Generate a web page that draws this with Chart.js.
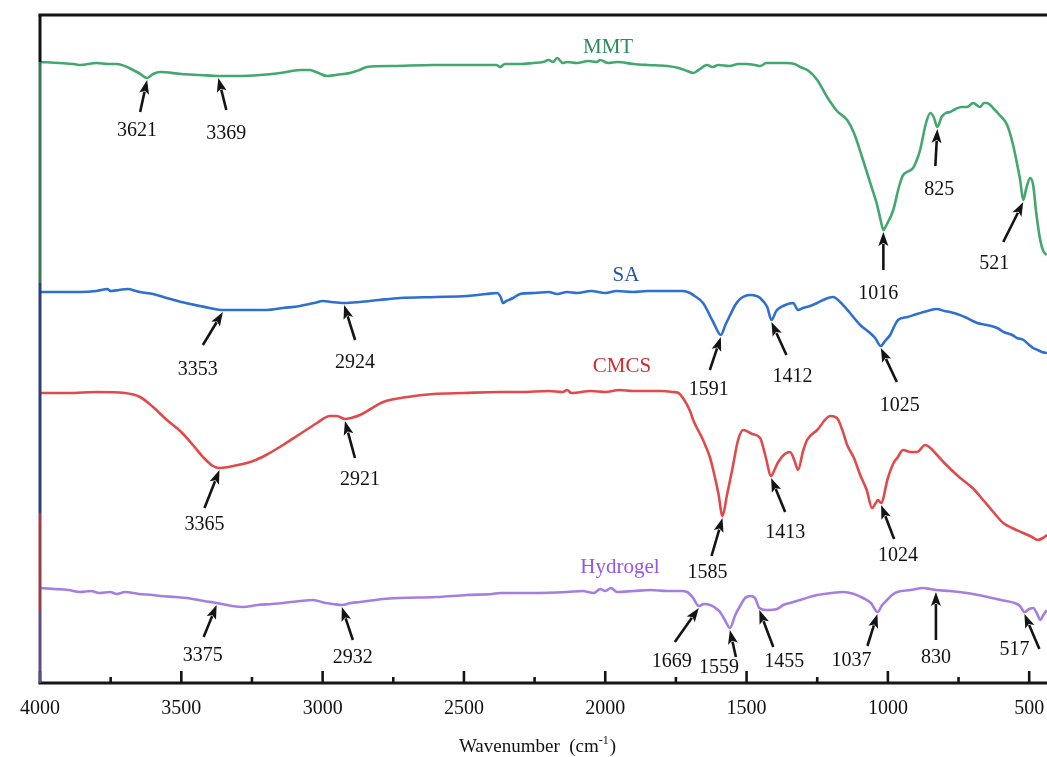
<!DOCTYPE html>
<html>
<head>
<meta charset="utf-8">
<title>FTIR spectra</title>
<script src="https://cdn.jsdelivr.net/npm/chart.js@4.4.1/dist/chart.umd.min.js"></script>
<style>
  html, body { margin: 0; padding: 0; background: #ffffff; }
  canvas { display: block; }
</style>
</head>
<body>
<canvas id="ftir" width="1047" height="757"></canvas>
<script>
// ---- Spectra: [wavenumber (cm-1), transmittance (a.u., stacked offsets)] ----
const MMT = [[4000,621],[3930,620],[3880,619],[3858,618],[3800,620],[3760,619],[3728,619],[3700,617],[3671,613],[3645,609],[3621,605],[3600,609],[3575,611],[3500,609],[3434,608],[3369,607],[3300,607],[3221,608],[3150,610],[3080,613],[3045,613],[3015,610],[2984,607],[2955,608],[2928,609],[2903,610],[2870,613],[2843,616],[2750,617],[2609,618],[2450,618],[2385,618],[2372,616],[2355,619],[2300,619],[2255,620],[2220,621],[2200,623],[2185,621],[2170,625],[2150,620],[2135,621],[2100,620],[2060,622],[2030,621],[2018,623],[1990,620],[1958,621],[1900,619],[1850,618],[1781,617],[1740,615],[1710,612],[1689,610],[1670,613],[1640,618],[1620,616],[1600,618],[1560,617],[1530,619],[1500,619],[1470,618],[1452,617],[1430,620],[1406,620],[1360,620],[1330,619],[1310,616],[1280,612],[1250,603],[1215,586],[1180,572],[1144,563],[1120,550],[1088,523],[1060,498],[1038,478],[1025,462],[1016,453],[1005,458],[981,473],[960,497],[946,508],[925,512],[911,515],[895,525],[886,533],[865,560],[850,570],[838,566],[825,556],[810,566],[795,570],[780,571],[760,574],[740,576],[720,576],[698,580],[674,576],[660,580],[649,580],[628,575],[605,568],[578,558],[557,538],[540,515],[532,503],[521,483],[510,495],[497,505],[486,498],[475,470],[461,443],[450,432],[437,428]];

const SA = [[4000,391],[3930,391],[3858,391],[3800,392],[3760,394],[3752,392],[3720,393],[3690,394],[3660,392],[3646,391],[3600,389],[3551,385],[3500,381],[3434,377],[3400,375],[3353,373],[3300,373],[3250,373],[3197,373],[3140,375],[3080,377],[3030,380],[2999,382],[2970,381],[2924,380],[2868,381],[2800,383],[2726,385],[2600,386],[2489,387],[2420,389],[2383,390],[2370,386],[2362,380],[2350,382],[2326,385],[2301,389],[2250,390],[2200,391],[2170,389],[2135,391],[2100,390],[2050,392],[2000,390],[1960,392],[1902,391],[1850,392],[1800,392],[1750,392],[1725,392],[1700,390],[1689,388],[1654,380],[1618,361],[1591,348],[1575,358],[1558,368],[1540,378],[1523,384],[1487,388],[1465,387],[1452,385],[1427,376],[1412,363],[1395,372],[1371,377],[1335,380],[1318,373],[1300,375],[1275,377],[1250,380],[1229,383],[1194,386],[1169,381],[1134,370],[1098,358],[1063,350],[1045,345],[1025,337],[1010,342],[992,348],[975,358],[964,363],[930,366],[897,369],[860,372],[826,374],[800,372],[780,371],[755,369],[720,365],[700,362],[684,360],[650,358],[613,355],[590,351],[560,348],[543,345],[520,343],[500,338],[486,335],[470,333],[455,331],[437,330]];

const CMCS = [[4000,290],[3900,290],[3800,291],[3700,290],[3646,286],[3600,276],[3551,263],[3500,251],[3459,238],[3420,225],[3388,217],[3365,215],[3300,218],[3246,222],[3200,228],[3140,238],[3080,249],[3020,260],[2974,267],[2950,267],[2921,264],[2900,265],[2868,268],[2830,274],[2786,281],[2700,286],[2609,289],[2500,290],[2372,291],[2300,291],[2200,292],[2150,291],[2135,293],[2120,290],[2050,292],[2000,291],[1950,293],[1902,292],[1850,292],[1800,292],[1760,291],[1741,290],[1725,285],[1700,272],[1689,263],[1654,243],[1630,226],[1618,213],[1600,190],[1585,167],[1570,187],[1551,213],[1530,243],[1512,253],[1480,249],[1452,245],[1434,228],[1413,207],[1400,214],[1388,221],[1365,229],[1346,231],[1330,222],[1318,213],[1300,232],[1286,243],[1250,253],[1204,267],[1180,265],[1160,252],[1144,238],[1120,225],[1098,208],[1075,193],[1056,175],[1045,179],[1035,183],[1024,180],[1000,205],[980,220],[967,225],[946,233],[920,231],[897,231],[868,238],[826,228],[800,220],[744,205],[700,195],[663,183],[630,172],[592,160],[560,155],[521,150],[490,146],[470,143],[451,145],[437,148]];

const HYDROGEL = [[4000,95],[3950,94],[3900,93],[3858,91],[3820,92],[3790,90],[3752,91],[3728,89],[3700,91],[3650,89],[3600,88],[3575,87],[3520,86],[3480,85],[3420,82],[3375,80],[3320,77],[3282,76],[3230,78],[3180,79],[3140,80],[3080,82],[3034,83],[2990,80],[2963,79],[2932,78],[2900,80],[2868,81],[2786,84],[2726,85],[2600,86],[2489,88],[2400,89],[2372,90],[2250,90],[2135,91],[2080,92],[2040,90],[2018,94],[2000,92],[1980,95],[1958,91],[1900,92],[1841,93],[1780,92],[1730,92],[1710,91],[1689,85],[1669,77],[1650,79],[1629,78],[1610,75],[1594,71],[1575,62],[1559,55],[1540,68],[1523,77],[1505,85],[1487,87],[1470,85],[1455,75],[1430,73],[1392,74],[1370,78],[1346,80],[1300,84],[1250,88],[1200,90],[1158,91],[1120,89],[1088,85],[1060,80],[1037,71],[1020,78],[1003,83],[985,88],[967,91],[920,93],[875,95],[850,94],[830,93],[780,92],[720,90],[663,87],[600,83],[543,79],[530,76],[517,71],[500,74],[486,75],[470,68],[461,63],[450,68],[437,73]];

// ---- Assigned bands (cm-1) ----
const MMT_PEAKS = [3621, 3369, 1016, 825, 521];
const SA_PEAKS = [3353, 2924, 1591, 1412, 1025];
const CMCS_PEAKS = [3365, 2921, 1585, 1413, 1024];
const HYDROGEL_PEAKS = [3375, 2932, 1669, 1559, 1455, 1037, 830, 517];

// ---- Axis ----
const X_MIN = 437, X_MAX = 4000;
const MAJOR_TICKS = [500, 1000, 1500, 2000, 2500, 3000, 3500, 4000];
const MINOR_TICKS = [750, 1250, 1750, 2250, 2750, 3250, 3750];

// ---- Styling / layout ----
const SERIF = '"Liberation Serif", "Times New Roman", serif';

const seriesStyle = [
  { name: 'MMT',      data: MMT,      peaks: MMT_PEAKS,      line: '#43a86f', text: '#2e8a58', labelAt: 1990, lift: 16,
    arrows: [[-7,32,-3,19],[8,32,0,24],[0,38,-5,24],[-2,37,4,24],[-20,40,-9,22]] },
  { name: 'SA',       data: SA,       peaks: SA_PEAKS,       line: '#2f6fcd', text: '#2452b4', labelAt: 1927, lift: 16,
    arrows: [[-20,33,-5,25],[11,35,0,23],[-11,33,-1,20],[15,33,6,22],[16,34,3,24]] },
  { name: 'CMCS',     data: CMCS,     peaks: CMCS_PEAKS,     line: '#e04a4a', text: '#d42a2a', labelAt: 1941, lift: 24,
    arrows: [[-15,38,0,17],[10,37,5,22],[-11,38,-4,17],[14,34,0,21],[13,34,4,17]] },
  { name: 'Hydrogel', data: HYDROGEL, peaks: HYDROGEL_PEAKS, line: '#a67ee2', text: '#9555e6', labelAt: 1948, lift: 24,
    arrows: [[-13,32,-1,19],[11,33,0,18],[-24,34,-3,20],[6,27,-17,11],[14,37,11,15],[-10,32,-16,15],[0,48,0,18],[15,35,-25,1]] }
];

// left frame is split into coloured bands per spectrum (y values)
const frameBands = [
  { from: 668, to: 621, color: '#111111' },
  { from: 621, to: 400, color: '#3b7552' },
  { from: 400, to: 170, color: '#2b3f78' },
  { from: 170, to: 71,  color: '#9a3b47' },
  { from: 71,  to: 0,   color: '#5a4d86' }
];

function valueAt(points, w) {
  for (let i = 0; i < points.length - 1; i++) {
    const [x0, y0] = points[i];
    const [x1, y1] = points[i + 1];
    if (w <= x0 && w >= x1) {
      const t = x0 === x1 ? 0 : (x0 - w) / (x0 - x1);
      return y0 + t * (y1 - y0);
    }
  }
  return points[points.length - 1][1];
}

function drawArrow(ctx, tx, ty, fx, fy) {
  const ang = Math.atan2(ty - fy, tx - fx);
  const head = 14, half = 5;
  const cos = Math.cos(ang), sin = Math.sin(ang);
  const bx = tx - head * cos, by = ty - head * sin;
  ctx.beginPath();
  ctx.moveTo(fx, fy);
  ctx.lineTo(bx + 2 * cos, by + 2 * sin);
  ctx.lineWidth = 2.6;
  ctx.strokeStyle = '#141414';
  ctx.lineCap = 'butt';
  ctx.stroke();
  ctx.beginPath();
  ctx.moveTo(tx, ty);
  ctx.lineTo(bx + half * sin, by - half * cos);
  ctx.lineTo(bx + 3 * cos, by + 3 * sin);
  ctx.lineTo(bx - half * sin, by + half * cos);
  ctx.closePath();
  ctx.fillStyle = '#141414';
  ctx.fill();
}

const framePlugin = {
  id: 'frame',
  afterDatasetsDraw(chart) {
    const { ctx, chartArea: a, scales: { x, y } } = chart;
    ctx.save();
    // bottom axis line and inward ticks
    ctx.strokeStyle = '#151515';
    ctx.lineWidth = 3;
    ctx.beginPath();
    ctx.moveTo(a.left - 1.5, a.bottom);
    ctx.lineTo(a.right, a.bottom);
    ctx.stroke();
    // top border
    ctx.beginPath();
    ctx.moveTo(a.left - 1.5, a.top);
    ctx.lineTo(a.right, a.top);
    ctx.stroke();
    ctx.lineWidth = 2.6;
    MAJOR_TICKS.forEach(v => {
      const px = x.getPixelForValue(v);
      ctx.beginPath(); ctx.moveTo(px, a.bottom); ctx.lineTo(px, a.bottom - 12); ctx.stroke();
    });
    MINOR_TICKS.forEach(v => {
      const px = x.getPixelForValue(v);
      ctx.beginPath(); ctx.moveTo(px, a.bottom); ctx.lineTo(px, a.bottom - 6); ctx.stroke();
    });
    // left axis, coloured per spectrum
    ctx.lineWidth = 3;
    frameBands.forEach(b => {
      ctx.strokeStyle = b.color;
      ctx.beginPath();
      ctx.moveTo(a.left, y.getPixelForValue(b.from));
      ctx.lineTo(a.left, y.getPixelForValue(b.to));
      ctx.stroke();
    });
    ctx.restore();
  },
  afterDraw(chart) {
    const { ctx, chartArea: a, scales: { x, y } } = chart;
    ctx.save();
    ctx.textAlign = 'center';
    ctx.textBaseline = 'middle';
    seriesStyle.forEach(s => {
      // series name
      ctx.font = '21px ' + SERIF;
      ctx.fillStyle = s.text;
      ctx.fillText(s.name, x.getPixelForValue(s.labelAt), y.getPixelForValue(valueAt(s.data, s.labelAt)) - s.lift);
      // band arrows + labels
      ctx.font = '20px ' + SERIF;
      s.peaks.forEach((w, i) => {
        const [dx, dy, lx, ly] = s.arrows[i];
        const tx = x.getPixelForValue(w);
        const ty = y.getPixelForValue(valueAt(s.data, w)) + 2;
        const fx = tx + dx, fy = ty + dy;
        drawArrow(ctx, tx, ty, fx, fy);
        ctx.fillStyle = '#111111';
        ctx.fillText(String(w), fx + lx, fy + ly);
      });
    });
    // axis title with superscript
    const cx = (a.left + a.right) / 2 - 6;
    const base = 752;
    ctx.textBaseline = 'alphabetic';
    ctx.textAlign = 'left';
    ctx.fillStyle = '#111111';
    const main = 'Wavenumber  (cm';
    ctx.font = '19px ' + SERIF;
    const wMain = ctx.measureText(main).width;
    ctx.font = '12px ' + SERIF;
    const sup = '-1';
    const wSup = ctx.measureText(sup).width;
    ctx.font = '19px ' + SERIF;
    const wClose = ctx.measureText(')').width;
    let sx = cx - (wMain + wSup + wClose + 1) / 2;
    ctx.fillText(main, sx, base);
    sx += wMain;
    ctx.font = '12px ' + SERIF;
    ctx.fillText(sup, sx, base - 8);
    sx += wSup + 1;
    ctx.font = '19px ' + SERIF;
    ctx.fillText(')', sx, base);
    ctx.restore();
  }
};

const ctx = document.getElementById('ftir').getContext('2d');
new Chart(ctx, {
  type: 'line',
  data: {
    datasets: seriesStyle.map(s => ({
      label: s.name,
      data: s.data.map(([w, v]) => ({ x: w, y: v })),
      borderColor: s.line,
      borderWidth: 2.6,
      pointRadius: 0,
      cubicInterpolationMode: 'monotone',
      fill: false
    }))
  },
  options: {
    responsive: false,
    animation: false,
    devicePixelRatio: 1,
    layout: { padding: { left: 40, right: 0, top: 15, bottom: 22 } },
    plugins: { legend: { display: false }, tooltip: { enabled: false } },
    scales: {
      x: {
        type: 'linear',
        reverse: true,
        min: X_MIN,
        max: X_MAX,
        grid: { display: false, drawTicks: false },
        border: { display: false },
        afterBuildTicks: axis => {
          axis.ticks = MAJOR_TICKS.concat(MINOR_TICKS).sort((p, q) => p - q).map(v => ({ value: v }));
        },
        ticks: {
          autoSkip: false,
          maxRotation: 0,
          padding: 14,
          color: '#111111',
          font: { family: SERIF, size: 20 },
          callback: v => (MAJOR_TICKS.includes(v) ? String(v) : '')
        }
      },
      y: { display: false, min: 0, max: 668 }
    }
  },
  plugins: [framePlugin]
});
</script>
</body>
</html>
